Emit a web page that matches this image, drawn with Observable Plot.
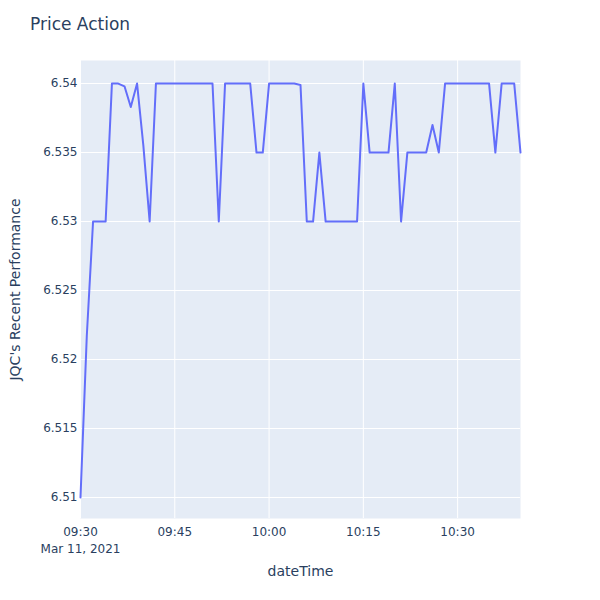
<!DOCTYPE html>
<html>
<head>
<meta charset="utf-8">
<script src="https://cdn.jsdelivr.net/npm/d3@7"></script>
<script src="https://cdn.jsdelivr.net/npm/@observablehq/plot@0.6"></script>
<style>
  body { margin: 0; background: #fff; }
  #wrap { position: relative; width: 600px; height: 600px; font-family: "DejaVu Sans", sans-serif; }
  #title { position: absolute; left: 30px; top: 14px; font-size: 17px; color: #2a3f5f; font-family: "DejaVu Sans", sans-serif; }
  #chart { position: absolute; left: 0; top: 0; }
</style>
</head>
<body>
<div id="wrap">
  <div id="chart"></div>
  <div id="title">Price Action</div>
</div>
<script>
const dateLabel = "2021-03-11";
const times = [
  "09:30","09:31","09:32","09:33","09:34","09:35","09:36","09:37","09:38","09:39",
  "09:40","09:41","09:42","09:43","09:44","09:45","09:46","09:47","09:48","09:49",
  "09:50","09:51","09:52","09:53","09:54","09:55","09:56","09:57","09:58","09:59",
  "10:00","10:01","10:02","10:03","10:04","10:05","10:06","10:07","10:08","10:09",
  "10:10","10:11","10:12","10:13","10:14","10:15","10:16","10:17","10:18","10:19",
  "10:20","10:21","10:22","10:23","10:24","10:25","10:26","10:27","10:28","10:29",
  "10:30","10:31","10:32","10:33","10:34","10:35","10:36","10:37","10:38","10:39",
  "10:40"
];
const prices = [
  6.51, 6.5217, 6.53, 6.53, 6.53, 6.54, 6.54, 6.5398, 6.5383, 6.54,
  6.5355, 6.53, 6.54, 6.54, 6.54, 6.54, 6.54, 6.54, 6.54, 6.54,
  6.54, 6.54, 6.53, 6.54, 6.54, 6.54, 6.54, 6.54, 6.535, 6.535,
  6.54, 6.54, 6.54, 6.54, 6.54, 6.5399, 6.53, 6.53, 6.535, 6.53,
  6.53, 6.53, 6.53, 6.53, 6.53, 6.54, 6.535, 6.535, 6.535, 6.535,
  6.54, 6.53, 6.535, 6.535, 6.535, 6.535, 6.537, 6.535, 6.54, 6.54,
  6.54, 6.54, 6.54, 6.54, 6.54, 6.54, 6.535, 6.54, 6.54, 6.54,
  6.535
];
const xTickTimes = ["09:30", "09:45", "10:00", "10:15", "10:30"];
const xTickDateLine = "Mar 11, 2021";
const yTicks = [6.51, 6.515, 6.52, 6.525, 6.53, 6.535, 6.54];
const yTickLabels = ["6.51", "6.515", "6.52", "6.525", "6.53", "6.535", "6.54"];
const xDomain = ["09:30", "10:40"];
const yDomain = [6.50848, 6.54167];

const toDate = t => new Date(`${dateLabel}T${t}:00Z`);
const data = times.map((t, i) => ({ t: toDate(t), v: prices[i] }));
const xTicks = xTickTimes.map(toDate);

const fmtX = d => {
  const i = xTicks.findIndex(x => +x === +d);
  const s = xTickTimes[i];
  return i === 0 ? s + "\n" + xTickDateLine : s;
};
const fmtY = d => yTickLabels[yTicks.findIndex(y => Math.abs(y - d) < 1e-9)];

const chart = Plot.plot({
  width: 600,
  height: 600,
  marginLeft: 80,
  marginRight: 80,
  marginTop: 60,
  marginBottom: 82,
  style: { fontFamily: "DejaVu Sans, sans-serif", fontSize: "12px", color: "#2a3f5f", background: "transparent" },
  x: { type: "utc", domain: xDomain.map(toDate) },
  y: { domain: yDomain },
  marks: [
    Plot.frame({ fill: "#e5ecf6", stroke: null }),
    Plot.gridY(yTicks, { stroke: "#ffffff", strokeOpacity: 1, strokeWidth: 1 }),
    Plot.gridX(xTicks, { stroke: "#ffffff", strokeOpacity: 1, strokeWidth: 1 }),
    Plot.lineY(data, { x: "t", y: "v", stroke: "#636efa", strokeWidth: 2, curve: "linear" }),
    Plot.axisY(yTicks, {
      tickFormat: fmtY, tickSize: 0, tickPadding: 3, fill: "#2a3f5f",
      label: "JQC's Recent Performance", labelAnchor: "center", labelOffset: 70, labelArrow: "none"
    }),
    Plot.axisX(xTicks, {
      tickFormat: fmtX, tickSize: 0, tickPadding: 6, fill: "#2a3f5f", lineHeight: 1.4,
      label: "dateTime", labelAnchor: "center", labelOffset: 57, labelArrow: "none"
    })
  ]
});
chart.querySelectorAll("g[aria-label='y-axis label'] text, g[aria-label='x-axis label'] text").forEach(t => {
  t.style.fontSize = "14px";
});
document.getElementById("chart").appendChild(chart);
</script>
</body>
</html>
